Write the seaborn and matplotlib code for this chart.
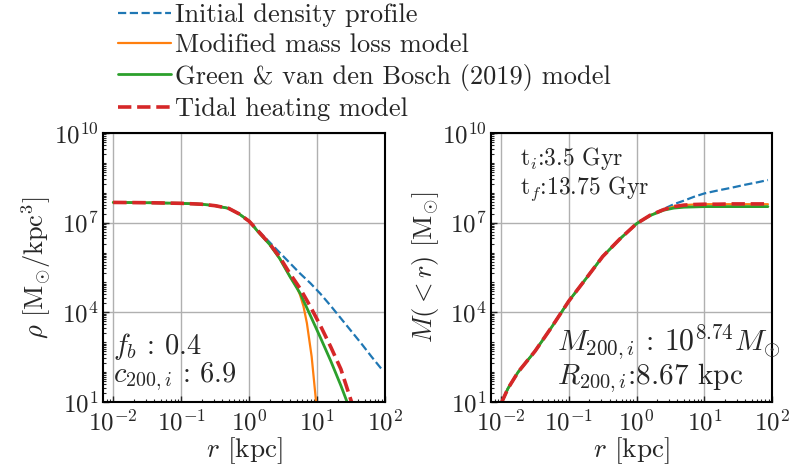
import numpy as np
import pandas as pd
import matplotlib
matplotlib.use("Agg")
import matplotlib.pyplot as plt
import matplotlib.ticker as mticker
import seaborn as sns

# ---------------- data (log10 values) ----------------
# density panel
rho_logr = [-2.0, -1.5, -1.0, -0.7, -0.5, -0.3, -0.15, 0.0, 0.15, 0.3, 0.45,
            0.6, 0.75, 0.9, 1.05, 1.2, 1.35, 1.5, 1.65, 1.8, 1.95]
rho_init = [7.68, 7.67, 7.65, 7.62, 7.57, 7.48, 7.3, 7.05, 6.7, 6.35, 6.0,
            5.65, 5.3, 4.98, 4.62, 4.22, 3.8, 3.38, 2.96, 2.52, 2.1]

rho_heat_logr = [-2.0, -1.5, -1.0, -0.7, -0.5, -0.3, -0.15, 0.0, 0.15, 0.3, 0.45,
                 0.6, 0.75, 0.9, 1.05, 1.2, 1.35, 1.5, 1.55]
rho_heat = [7.68, 7.67, 7.65, 7.62, 7.57, 7.48, 7.3, 7.05, 6.68, 6.3, 5.85,
            5.3, 4.8, 4.2, 3.55, 2.85, 2.1, 1.05, 0.7]

rho_green_logr = [-2.0, -1.5, -1.0, -0.7, -0.5, -0.3, -0.15, 0.0, 0.15, 0.3, 0.45,
                  0.6, 0.75, 0.9, 1.05, 1.2, 1.35, 1.45, 1.5]
rho_green = [7.68, 7.67, 7.65, 7.62, 7.57, 7.48, 7.3, 7.05, 6.65, 6.28, 5.8,
             5.2, 4.64, 3.9, 3.15, 2.38, 1.55, 0.95, 0.6]

rho_mml_logr = [-2.0, -1.5, -1.0, -0.7, -0.5, -0.3, -0.15, 0.0, 0.15, 0.3, 0.45,
                0.6, 0.7, 0.75, 0.8, 0.85, 0.92, 0.985, 1.0]
rho_mml = [7.68, 7.67, 7.65, 7.62, 7.57, 7.48, 7.3, 7.05, 6.65, 6.28, 5.8,
           5.2, 4.85, 4.58, 4.2, 3.64, 2.52, 1.01, 0.5]

# enclosed mass panel
m_logr = [-2.0, -1.9, -1.75, -1.5, -1.25, -1.0, -0.75, -0.5, -0.25, 0.0, 0.2,
          0.4, 0.55, 0.7, 0.85, 1.0, 1.2, 1.4, 1.6, 1.8, 1.94]
m_init = [0.95, 1.45, 2.0, 2.7, 3.52, 4.38, 5.12, 5.87, 6.45, 6.97, 7.25,
          7.46, 7.62, 7.74, 7.87, 7.98, 8.08, 8.17, 8.27, 8.36, 8.43]
m_heat = [0.95, 1.45, 2.0, 2.7, 3.52, 4.38, 5.12, 5.87, 6.45, 6.97, 7.25,
          7.44, 7.54, 7.59, 7.61, 7.62, 7.62, 7.63, 7.63, 7.63, 7.63]
m_mml = [0.95, 1.45, 2.0, 2.7, 3.52, 4.38, 5.12, 5.87, 6.45, 6.97, 7.25,
         7.44, 7.54, 7.59, 7.61, 7.62, 7.62, 7.62, 7.62, 7.62, 7.62]
m_green = [0.95, 1.45, 2.0, 2.7, 3.52, 4.38, 5.12, 5.87, 6.45, 6.97, 7.24,
           7.42, 7.49, 7.52, 7.53, 7.54, 7.54, 7.54, 7.54, 7.54, 7.54]

labels = ["Initial density profile", "Modified mass loss model",
          "Green & van den Bosch (2019) model", "Tidal heating model"]
colors = ["#1f77b4", "#ff7f0e", "#2ca02c", "#d62728"]

# ---------------- style ----------------
sns.set_style("ticks")
plt.rcParams["font.family"] = ["cmr10", "DejaVu Serif"]
plt.rcParams["mathtext.fontset"] = "cm"
plt.rcParams["axes.formatter.use_mathtext"] = True
plt.rcParams["axes.unicode_minus"] = False

fig = plt.figure(figsize=(7.9, 4.72), dpi=100)
ax1 = fig.add_axes([0.1304, 0.1483, 0.3570, 0.5697])
ax2 = fig.add_axes([0.6215, 0.1483, 0.3557, 0.5697])


def draw(ax, series):
    for (lx, ly), lab, col in zip(series, labels, colors):
        df = pd.DataFrame({"r": 10.0 ** np.array(lx), "y": 10.0 ** np.array(ly)})
        if lab.startswith("Initial"):
            kw = dict(lw=1.6, dashes=(3.7, 1.6))
        elif lab.startswith("Modified"):
            kw = dict(lw=1.6)
        elif lab.startswith("Green"):
            kw = dict(lw=2.0)
        else:
            kw = dict(lw=2.6, dashes=(3.7, 1.6))
        sns.lineplot(data=df, x="r", y="y", ax=ax, color=col, label=lab,
                     sort=False, estimator=None, **kw)


draw(ax1, [(rho_logr, rho_init), (rho_mml_logr, rho_mml),
           (rho_green_logr, rho_green), (rho_heat_logr, rho_heat)])
draw(ax2, [(m_logr, m_init), (m_logr, m_mml), (m_logr, m_green), (m_logr, m_heat)])

for ax in (ax1, ax2):
    ax.set_xscale("log")
    ax.set_yscale("log")
    ax.set_xlim(10 ** -2.15, 100)
    ax.set_ylim(10, 1e10)
    ax.xaxis.set_major_locator(mticker.FixedLocator([1e-2, 1e-1, 1, 10, 100]))
    ax.xaxis.set_minor_locator(mticker.LogLocator(base=10, subs=np.arange(2, 10), numticks=50))
    ax.yaxis.set_major_locator(mticker.FixedLocator([1e1, 1e4, 1e7, 1e10]))
    ax.yaxis.set_minor_locator(mticker.LogLocator(base=10, subs=np.arange(1, 10), numticks=100))
    ax.xaxis.set_minor_formatter(mticker.NullFormatter())
    ax.yaxis.set_minor_formatter(mticker.NullFormatter())
    ax.tick_params(which="both", direction="in", labelsize=18)
    ax.tick_params(which="major", length=4, width=1)
    ax.tick_params(axis="x", which="major", pad=5.5)
    ax.tick_params(axis="y", which="major", pad=3)
    ax.tick_params(which="minor", length=2, width=0.8)
    ax.grid(True, which="major", color="#b0b0b0", lw=1)
    for s in ax.spines.values():
        s.set_color("black")
        s.set_linewidth(1.5)
    ax.set_xlabel(r"$r$ [kpc]", fontsize=19.5, labelpad=0)
    if ax.get_legend() is not None:
        ax.get_legend().remove()

ax1.set_ylabel(r"$\rho$ [M$_{\odot}$/kpc$^{3}$]", fontsize=19, labelpad=1)
ax2.set_ylabel(r"$M(<r)$ [M$_{\odot}$]", fontsize=19, labelpad=1)

ax1.text(0.035, 0.18, r"$f_b$ : 0.4", transform=ax1.transAxes, fontsize=20.5, va="baseline")
ax1.text(0.035, 0.075, r"$c_{200,i}$ : 6.9", transform=ax1.transAxes, fontsize=20.5, va="baseline")
ax2.text(0.103, 0.88, r"t$_i$:3.5 Gyr", transform=ax2.transAxes, fontsize=17, va="baseline")
ax2.text(0.103, 0.775, r"t$_f$:13.75 Gyr", transform=ax2.transAxes, fontsize=17, va="baseline")
ax2.text(0.235, 0.19, r"$M_{200,i}$ : $10^{8.74}M_{\odot}$", transform=ax2.transAxes,
         fontsize=21.5, va="baseline")
ax2.text(0.235, 0.068, r"$R_{200,i}$:8.67 kpc", transform=ax2.transAxes, fontsize=21,
         va="baseline")

handles, labs = ax1.get_legend_handles_labels()
fig.legend(handles, labs, loc="upper left", bbox_to_anchor=(0.136, 1.016),
           frameon=False, fontsize=19, handlelength=2.0, handletextpad=0.15,
           labelspacing=0.25, borderaxespad=0)

fig.savefig("out.png", dpi=100)
